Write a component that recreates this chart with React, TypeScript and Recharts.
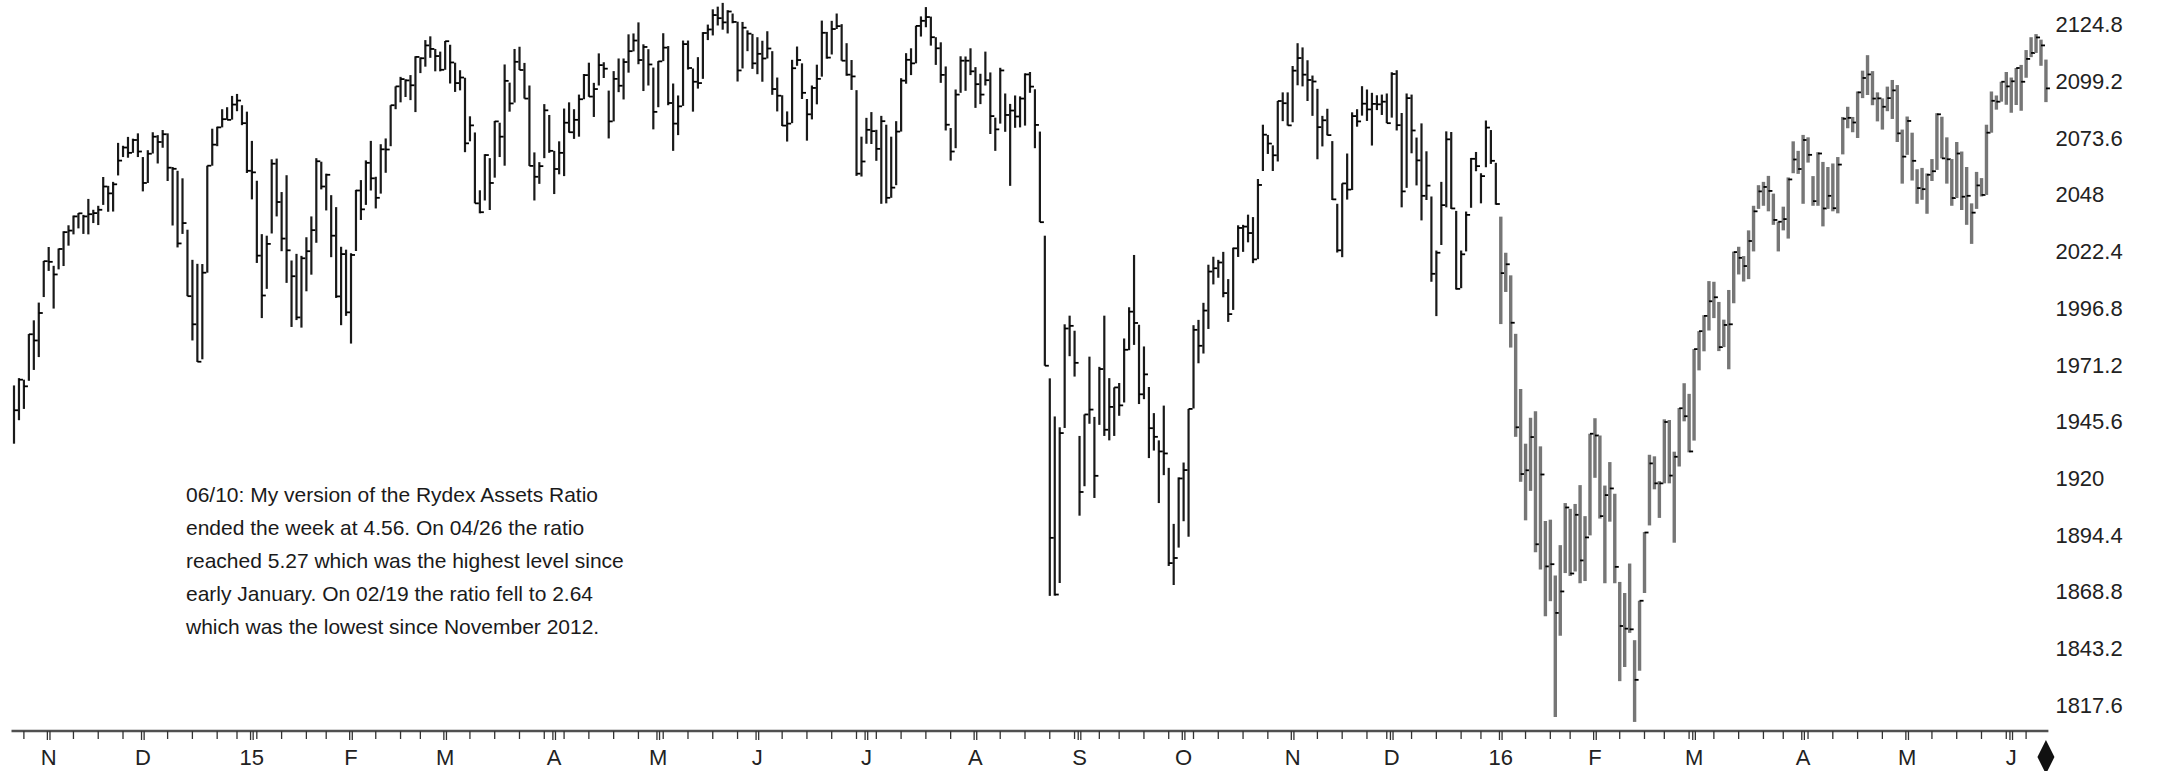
import { ComposedChart, Bar, XAxis, YAxis } from 'recharts'

// daily high / low / close, one row per trading day
const oct14 = [
  [1962.0, 1935.7, 1950.8], [1965.3, 1946.3, 1964.6], [1964.6, 1951.4, 1961.6], [1985.2, 1964.1, 1985.1],
  [1991.4, 1969.0, 1982.3], [1999.4, 1974.8, 1994.7], [2018.2, 2001.9, 2018.1],
]
const nov14 = [
  [2024.5, 2013.7, 2017.8], [2016.0, 1996.7, 2012.1], [2023.8, 2014.4, 2023.6], [2031.6, 2015.9, 2031.2],
  [2034.3, 2025.1, 2031.9], [2038.7, 2030.2, 2038.3], [2039.8, 2032.9, 2039.7], [2039.0, 2030.4, 2038.3],
  [2046.2, 2030.2, 2039.3], [2041.3, 2035.3, 2039.8], [2043.1, 2034.4, 2041.3], [2056.1, 2043.5, 2051.8],
  [2052.1, 2040.4, 2048.7], [2053.9, 2040.5, 2052.8], [2071.5, 2056.8, 2063.5], [2070.2, 2065.1, 2069.4],
  [2074.2, 2064.8, 2067.0], [2073.4, 2067.0, 2072.8], [2075.8, 2065.1, 2067.6],
]
const dec14 = [
  [2065.1, 2049.6, 2053.4], [2068.2, 2053.4, 2066.6], [2076.3, 2066.7, 2074.3], [2075.0, 2062.2, 2071.9],
  [2077.3, 2069.3, 2075.4], [2075.8, 2054.3, 2060.3], [2060.6, 2034.2, 2059.8], [2058.9, 2024.3, 2026.1],
  [2055.5, 2030.4, 2035.3], [2032.3, 2002.3, 2002.3], [2018.7, 1982.3, 1989.6], [2016.9, 1972.6, 1972.7],
  [2016.8, 1973.8, 2012.9], [2061.2, 2012.9, 2061.2], [2077.9, 2061.2, 2070.7], [2078.8, 2070.0, 2078.5],
  [2086.7, 2078.5, 2082.2], [2087.6, 2081.9, 2081.9], [2092.7, 2082.0, 2088.8], [2093.6, 2085.8, 2090.6],
  [2088.5, 2079.5, 2080.4], [2085.6, 2057.9, 2058.9],
]
const jan15 = [
  [2072.4, 2046.0, 2058.2], [2054.4, 2017.3, 2020.6], [2030.3, 1992.4, 2002.6], [2029.6, 2005.6, 2025.9],
  [2064.1, 2030.6, 2062.1], [2064.4, 2038.3, 2044.8], [2049.3, 2022.6, 2028.3], [2056.9, 2008.3, 2023.0],
  [2018.4, 1988.4, 2011.3], [2021.4, 1991.5, 1992.7], [2020.5, 1988.1, 2019.4], [2028.9, 2004.5, 2022.6],
  [2038.3, 2012.0, 2032.1], [2064.6, 2026.4, 2063.2], [2063.0, 2050.5, 2051.8], [2057.6, 2041.0, 2057.1],
  [2047.9, 2019.9, 2029.6], [2042.5, 2001.5, 2002.2], [2024.6, 1989.2, 2021.3], [2023.3, 1993.4, 1995.0],
]
const feb15 = [
  [2021.7, 1980.9, 2020.9], [2050.3, 2022.7, 2050.0], [2054.7, 2036.7, 2041.5], [2063.6, 2043.5, 2062.5],
  [2072.4, 2050.0, 2055.5], [2056.2, 2041.9, 2046.7], [2070.9, 2048.6, 2068.6], [2073.5, 2058.0, 2068.5],
  [2088.5, 2070.0, 2088.5], [2097.0, 2086.7, 2097.0], [2101.3, 2089.8, 2100.3], [2100.2, 2092.2, 2099.7],
  [2102.1, 2090.8, 2097.5], [2110.6, 2085.4, 2110.3], [2110.1, 2103.0, 2109.7], [2117.9, 2105.9, 2115.5],
  [2119.6, 2109.9, 2113.9], [2113.9, 2103.8, 2110.7], [2112.7, 2103.8, 2104.5],
]
const mar15 = [
  [2117.5, 2104.5, 2117.4], [2115.8, 2098.3, 2107.8], [2107.7, 2094.5, 2098.5], [2104.3, 2095.2, 2101.0],
  [2100.9, 2067.3, 2071.3], [2083.5, 2072.2, 2079.4], [2076.2, 2044.2, 2044.2], [2050.1, 2039.7, 2040.2],
  [2066.4, 2045.5, 2066.0], [2064.6, 2041.2, 2053.4], [2081.4, 2055.8, 2081.2], [2080.6, 2065.1, 2074.3],
  [2106.9, 2061.2, 2099.5], [2098.7, 2085.6, 2089.3], [2113.9, 2089.7, 2108.1], [2114.9, 2104.4, 2104.4],
  [2107.6, 2091.5, 2091.5], [2097.4, 2061.1, 2061.1], [2067.2, 2045.5, 2056.2], [2062.8, 2053.0, 2061.0],
  [2089.0, 2064.6, 2086.2], [2084.1, 2067.0, 2067.9],
]
const apr15 = [
  [2067.9, 2048.4, 2059.7], [2072.2, 2057.3, 2067.0], [2087.0, 2056.5, 2080.6], [2089.8, 2076.1, 2076.3],
  [2086.7, 2073.3, 2081.9], [2093.3, 2074.3, 2091.2], [2102.6, 2091.2, 2102.1], [2107.7, 2092.3, 2092.4],
  [2098.6, 2083.2, 2095.8], [2111.9, 2097.4, 2106.6], [2107.9, 2100.8, 2105.0], [2095.1, 2073.5, 2081.2],
  [2103.9, 2081.2, 2100.4], [2109.6, 2094.4, 2097.3], [2109.6, 2091.1, 2108.0], [2120.5, 2103.2, 2112.9],
  [2120.9, 2112.8, 2117.7], [2125.9, 2107.0, 2108.9], [2116.0, 2094.9, 2114.8], [2113.8, 2097.4, 2106.9],
  [2105.5, 2077.6, 2085.5],
]
const may15 = [
  [2108.4, 2087.6, 2108.3], [2121.0, 2108.4, 2114.5], [2115.2, 2088.5, 2089.5], [2098.3, 2067.9, 2080.2],
  [2092.9, 2075.0, 2088.0], [2117.7, 2088.2, 2116.1], [2117.7, 2104.6, 2105.3], [2105.1, 2085.6, 2099.1],
  [2110.2, 2096.0, 2098.5], [2121.5, 2100.4, 2121.1], [2124.9, 2117.9, 2122.7], [2131.8, 2120.0, 2129.2],
  [2133.0, 2124.5, 2127.8], [2134.7, 2122.6, 2125.9], [2131.4, 2120.9, 2130.8], [2129.9, 2125.5, 2126.1],
  [2126.2, 2099.2, 2104.2], [2126.1, 2105.1, 2123.5], [2122.3, 2112.9, 2120.8], [2120.7, 2104.9, 2107.4],
]
const jun15 = [
  [2119.2, 2102.5, 2111.7], [2117.6, 2099.1, 2109.6], [2121.9, 2109.6, 2114.1], [2112.9, 2093.2, 2095.8],
  [2101.0, 2085.7, 2092.8], [2093.0, 2079.1, 2079.3], [2085.7, 2072.1, 2080.2], [2109.0, 2080.4, 2105.2],
  [2115.0, 2106.3, 2108.9], [2107.4, 2091.3, 2094.1], [2091.3, 2072.5, 2084.4], [2097.4, 2082.1, 2096.3],
  [2106.8, 2088.9, 2100.4], [2126.7, 2101.4, 2121.2], [2121.6, 2109.5, 2110.0], [2126.6, 2111.4, 2122.9],
  [2129.9, 2122.9, 2124.2], [2125.1, 2108.6, 2108.6], [2116.5, 2101.8, 2102.3], [2108.9, 2095.4, 2101.5],
  [2095.3, 2056.6, 2057.6], [2074.3, 2056.3, 2063.1],
]
const jul15 = [
  [2082.8, 2071.1, 2077.4], [2085.4, 2071.0, 2076.8], [2077.4, 2063.4, 2068.8], [2083.7, 2044.0, 2081.3],
  [2079.7, 2044.2, 2046.7], [2074.3, 2046.7, 2051.3], [2081.3, 2052.4, 2076.6], [2100.7, 2076.6, 2099.6],
  [2112.0, 2098.2, 2109.0], [2114.2, 2102.1, 2107.4], [2124.4, 2107.4, 2124.3], [2128.6, 2119.5, 2126.6],
  [2132.8, 2123.7, 2128.3], [2128.5, 2115.4, 2119.2], [2119.2, 2106.7, 2114.2], [2116.9, 2098.6, 2102.2],
  [2106.0, 2077.1, 2079.7], [2078.2, 2063.5, 2067.6], [2095.6, 2069.1, 2093.3], [2110.6, 2094.1, 2108.6],
  [2110.5, 2095.0, 2108.6], [2114.2, 2102.1, 2103.8],
]
const aug15 = [
  [2105.7, 2087.3, 2098.0], [2102.7, 2089.0, 2093.3], [2112.7, 2097.4, 2099.8], [2103.3, 2075.5, 2083.6],
  [2082.9, 2067.9, 2077.6], [2105.4, 2080.2, 2104.2], [2093.8, 2076.5, 2084.1], [2089.1, 2052.1, 2086.1],
  [2092.9, 2078.3, 2083.4], [2092.5, 2078.5, 2091.5], [2102.9, 2079.3, 2102.4], [2103.5, 2094.1, 2096.9],
  [2095.7, 2069.1, 2079.6], [2076.6, 2035.7, 2035.7], [2029.6, 1970.9, 1970.9], [1965.2, 1867.0, 1893.2],
  [1948.0, 1867.1, 1867.6], [1943.1, 1872.8, 1940.5], [1989.6, 1942.8, 1987.7], [1993.5, 1975.2, 1988.9],
  [1986.7, 1966.0, 1972.2],
]
const sep15 = [
  [1939.2, 1903.2, 1913.9], [1948.9, 1916.5, 1948.9], [1975.0, 1944.7, 1951.1], [1947.8, 1911.2, 1921.2],
  [1970.4, 1944.2, 1969.4], [1993.5, 1939.2, 1942.0], [1965.3, 1937.2, 1952.3], [1961.1, 1939.2, 1961.1],
  [1963.1, 1948.3, 1953.0], [1983.2, 1954.3, 1978.1], [1997.3, 1977.9, 1995.3], [2020.9, 1980.3, 1990.2],
  [1989.4, 1953.6, 1958.0], [1979.6, 1955.8, 1967.0], [1961.3, 1929.2, 1942.7], [1949.5, 1932.6, 1938.8],
  [1937.2, 1908.9, 1932.2], [1952.9, 1921.5, 1931.3], [1924.8, 1880.5, 1881.8], [1899.5, 1871.9, 1884.1],
  [1920.5, 1888.8, 1920.0],
]
const oct15 = [
  [1927.2, 1900.7, 1923.8], [1951.4, 1893.7, 1951.4], [1989.2, 1951.6, 1987.1], [1991.6, 1972.0, 1979.9],
  [1999.3, 1976.4, 1995.8], [2016.5, 1987.5, 2013.4], [2020.1, 2007.6, 2014.9], [2018.7, 2010.6, 2017.5],
  [2022.3, 2001.8, 2003.7], [2010.0, 1990.7, 1994.2], [2024.2, 1996.1, 2023.9], [2034.3, 2020.0, 2033.1],
  [2034.5, 2022.3, 2033.7], [2039.1, 2026.6, 2030.8], [2038.0, 2017.2, 2018.9], [2055.2, 2019.0, 2052.5],
  [2079.7, 2058.8, 2075.2], [2075.1, 2066.5, 2071.2], [2070.4, 2058.8, 2065.9], [2090.4, 2063.1, 2090.4],
  [2094.3, 2081.3, 2089.4], [2094.3, 2079.3, 2079.4],
]
const nov15 = [
  [2106.2, 2080.8, 2104.1], [2116.5, 2097.5, 2109.8], [2114.6, 2097.0, 2102.3], [2108.8, 2090.4, 2099.9],
  [2101.9, 2083.7, 2099.2], [2095.9, 2064.1, 2078.6], [2083.7, 2069.9, 2081.7], [2086.9, 2074.9, 2075.0],
  [2072.3, 2045.7, 2046.0], [2044.0, 2022.0, 2023.0], [2053.2, 2019.9, 2053.2], [2066.7, 2045.9, 2050.4],
  [2085.3, 2050.2, 2083.6], [2086.7, 2078.8, 2081.2], [2097.1, 2083.8, 2089.2], [2095.6, 2081.4, 2086.6],
  [2094.1, 2070.3, 2089.1], [2093.0, 2086.3, 2088.9], [2093.3, 2084.1, 2090.1], [2093.8, 2080.4, 2080.4],
]
const dec15 = [
  [2103.4, 2082.9, 2102.6], [2104.3, 2077.1, 2079.5], [2085.0, 2042.4, 2049.6], [2093.8, 2051.2, 2091.7],
  [2093.3, 2066.8, 2077.1], [2073.9, 2052.3, 2063.6], [2080.3, 2036.5, 2047.6], [2067.7, 2045.7, 2052.2],
  [2047.3, 2008.8, 2012.4], [2022.9, 1993.3, 2021.9], [2053.9, 2025.4, 2043.4], [2076.7, 2042.4, 2073.1],
  [2076.4, 2041.7, 2041.9], [2040.8, 2005.3, 2005.6], [2022.9, 2005.9, 2021.2], [2040.5, 2022.5, 2039.0],
  [2064.7, 2042.2, 2064.3], [2067.4, 2058.7, 2061.0], [2057.8, 2044.2, 2056.5], [2081.6, 2060.5, 2078.4],
  [2077.3, 2062.0, 2063.4], [2062.5, 2043.6, 2043.9],
]
const jan16 = [
  [2038.2, 1989.7, 2012.7], [2021.9, 2004.2, 2016.7], [2011.7, 1979.1, 1990.3], [1985.3, 1938.8, 1943.1],
  [1960.4, 1918.5, 1922.0], [1935.7, 1901.1, 1923.7], [1947.4, 1914.4, 1938.7], [1950.3, 1886.7, 1890.3],
  [1934.5, 1878.9, 1921.8], [1900.8, 1857.8, 1880.3], [1901.4, 1864.6, 1881.3], [1876.2, 1812.3, 1859.3],
  [1889.9, 1849.0, 1869.0], [1908.9, 1877.3, 1906.9], [1906.3, 1876.0, 1877.1], [1908.5, 1878.0, 1903.6],
  [1917.0, 1872.7, 1883.0], [1903.0, 1873.7, 1893.4], [1940.2, 1894.3, 1940.2],
]
const feb16 = [
  [1947.2, 1920.3, 1939.4], [1939.4, 1901.9, 1903.0], [1916.8, 1872.7, 1912.5], [1927.4, 1900.5, 1915.5],
  [1913.1, 1872.7, 1880.1], [1873.3, 1828.5, 1853.4], [1868.3, 1834.9, 1852.2], [1881.6, 1850.3, 1851.9],
  [1847.0, 1810.1, 1829.1], [1864.8, 1833.2, 1864.8], [1895.8, 1868.3, 1895.6], [1930.7, 1898.8, 1926.8],
  [1930.0, 1915.1, 1917.8], [1918.8, 1902.2, 1917.8], [1946.7, 1917.8, 1945.5], [1946.4, 1917.8, 1921.3],
  [1932.1, 1891.0, 1929.8], [1951.8, 1925.4, 1951.7], [1963.0, 1945.8, 1948.1], [1958.2, 1931.8, 1932.2],
]
const mar16 = [
  [1978.4, 1937.1, 1978.4], [1986.5, 1968.8, 1986.5], [1993.7, 1977.4, 1993.4], [2009.1, 1986.8, 2000.0],
  [2008.8, 1992.4, 2001.8], [1999.7, 1977.5, 1979.3], [1991.7, 1979.3, 1989.3], [2005.1, 1969.3, 1989.6],
  [2022.4, 1999.1, 2022.2], [2024.6, 2012.1, 2019.6], [2020.4, 2008.9, 2015.9], [2032.0, 2010.0, 2027.2],
  [2043.1, 2022.5, 2040.6], [2052.4, 2041.7, 2049.6], [2053.9, 2043.1, 2051.6], [2056.6, 2040.6, 2049.8],
  [2048.6, 2034.5, 2036.7], [2036.0, 2022.5, 2035.9], [2042.7, 2032.0, 2037.1], [2055.9, 2028.3, 2055.0],
  [2072.2, 2057.8, 2064.0], [2067.9, 2057.5, 2059.7],
]
const apr16 = [
  [2075.1, 2044.0, 2072.8], [2074.0, 2062.6, 2066.1], [2056.5, 2043.1, 2045.2], [2067.3, 2043.1, 2066.7],
  [2062.9, 2033.8, 2041.9], [2060.6, 2041.7, 2047.6], [2062.2, 2040.6, 2042.0], [2065.1, 2039.7, 2061.7],
  [2083.2, 2066.3, 2082.4], [2087.8, 2078.1, 2082.8], [2083.2, 2076.3, 2080.7], [2094.7, 2073.7, 2094.3],
  [2104.1, 2091.7, 2100.8], [2111.1, 2093.1, 2102.4], [2103.9, 2088.5, 2091.5], [2094.3, 2081.2, 2091.6],
  [2091.6, 2077.5, 2087.8], [2096.9, 2085.8, 2091.7], [2099.9, 2082.3, 2095.2], [2097.6, 2071.9, 2075.8],
  [2077.5, 2053.1, 2065.3],
]
const may16 = [
  [2083.4, 2066.1, 2081.4], [2076.1, 2054.5, 2063.4], [2059.6, 2044.0, 2051.1], [2060.2, 2045.8, 2050.6],
  [2057.7, 2039.5, 2057.1], [2064.2, 2054.3, 2058.7], [2084.9, 2059.3, 2084.4], [2083.3, 2064.5, 2064.5],
  [2074.0, 2053.1, 2064.1], [2064.2, 2043.1, 2046.6], [2071.9, 2046.6, 2066.7], [2067.6, 2041.2, 2047.2],
  [2060.6, 2034.5, 2047.6], [2044.2, 2025.9, 2040.0], [2058.4, 2041.7, 2052.3], [2055.6, 2047.3, 2048.0],
  [2079.7, 2048.0, 2076.1], [2094.7, 2076.1, 2090.5], [2092.9, 2086.5, 2090.1], [2099.1, 2090.1, 2099.1],
  [2103.5, 2088.7, 2097.0],
]
const jun16 = [
  [2101.0, 2085.1, 2099.3], [2105.3, 2088.6, 2105.3], [2106.7, 2086.0, 2099.1], [2113.4, 2100.9, 2109.4],
  [2119.2, 2110.2, 2112.1], [2120.6, 2112.1, 2119.1], [2118.1, 2106.3, 2115.5], [2109.1, 2089.9, 2096.1],
]

const months = [oct14, nov14, dec14, jan15, feb15, mar15, apr15, may15, jun15, jul15, aug15, sep15,
  oct15, nov15, dec15, jan16, feb16, mar16, apr16, may16, jun16]

const holidays = [
  '2014-11-27', '2014-12-25', '2015-01-01', '2015-01-19', '2015-02-16', '2015-04-03', '2015-05-25',
  '2015-07-03', '2015-09-07', '2015-11-26', '2015-12-25', '2016-01-01', '2016-01-18', '2016-02-15',
  '2016-03-25', '2016-05-30',
]

const priceTicks = [1817.6, 1843.2, 1868.8, 1894.4, 1920, 1945.6, 1971.2, 1996.8, 2022.4, 2048, 2073.6, 2099.2, 2124.8]
const monthLetters = ['', 'F', 'M', 'A', 'M', 'J', 'J', 'A', 'S', 'O', 'N', 'D']

const noteLines = [
  '06/10: My version of the Rydex Assets Ratio',
  'ended the week at 4.56. On 04/26 the ratio',
  'reached 5.27 which was the highest level since',
  'early January. On 02/19 the ratio fell to 2.64',
  'which was the lowest since November 2012.',
]

function tradingDays(start: string, end: string) {
  const out: string[] = []
  const d = new Date(start + 'T00:00:00Z')
  const stop = new Date(end + 'T00:00:00Z')
  while (d <= stop) {
    const wd = d.getUTCDay()
    const iso = d.toISOString().slice(0, 10)
    if (wd !== 0 && wd !== 6 && !holidays.includes(iso)) out.push(iso)
    d.setUTCDate(d.getUTCDate() + 1)
  }
  return out
}

const dates = tradingDays('2014-10-23', '2016-06-10')
const rows = months.flat()
const data = dates.map((date, i) => {
  const [high, low, close] = rows[i] || rows[rows.length - 1]
  return { date, high, low, close, range: [low, high] }
})

// weekly ticks, month starts, and the last bar (diamond)
const weekStart = new Set<string>()
const monthStart = new Set<string>()
dates.forEach((d, i) => {
  if (i === 0) return
  const prev = new Date(dates[i - 1] + 'T00:00:00Z')
  const cur = new Date(d + 'T00:00:00Z')
  if (cur.getUTCDay() < prev.getUTCDay() || (cur.getTime() - prev.getTime()) > 4 * 86400000) weekStart.add(d)
  if (d.slice(5, 7) !== dates[i - 1].slice(5, 7)) monthStart.add(d)
})
const lastDate = dates[dates.length - 1]
const xTicks = dates.filter((d) => weekStart.has(d) || monthStart.has(d) || d === lastDate)

function monthLabel(d: string) {
  const m = Number(d.slice(5, 7))
  return m === 1 ? d.slice(2, 4) : monthLetters[m - 1]
}

function HlcBar(props: any) {
  const { x, y, width, height, payload } = props
  if (!payload) return null
  const cx = x + width / 2
  const top = Math.min(y, y + height)
  const bot = Math.max(y, y + height)
  const { high, low, close } = payload
  const cy = high === low ? top : top + ((high - close) / (high - low)) * (bot - top)
  const gray = payload.date >= '2016-01-01'
  return (
    <g>
      <line x1={cx} x2={cx} y1={top} y2={bot} stroke={gray ? '#767676' : '#1a1a1a'} strokeWidth={gray ? 3.4 : 2.2} />
      <line x1={cx} x2={cx + 4} y1={cy} y2={cy} stroke="#000" strokeWidth={1.8} />
    </g>
  )
}

function DateTick(props: any) {
  const { x, y, payload } = props
  const d: string = payload.value
  if (d === lastDate) {
    return <polygon points={`${x},${y + 9} ${x + 8.5},${y + 26} ${x},${y + 43} ${x - 8.5},${y + 26}`} fill="#111" />
  }
  const isMonth = monthStart.has(d)
  return (
    <g>
      {isMonth ? (
        <>
          <line x1={x - 1.3} x2={x - 1.3} y1={y} y2={y + 9} stroke="#333" strokeWidth={1.3} />
          <line x1={x + 1.3} x2={x + 1.3} y1={y} y2={y + 9} stroke="#333" strokeWidth={1.3} />
          <text x={x} y={y + 34} textAnchor="middle" fontSize={22} fontFamily="Liberation Sans, Arial, sans-serif" fill="#222">
            {monthLabel(d)}
          </text>
        </>
      ) : (
        <line x1={x} x2={x} y1={y} y2={y + 8} stroke="#333" strokeWidth={1.3} />
      )}
    </g>
  )
}

function PriceTick(props: any) {
  const { x, y, payload } = props
  return (
    <text x={x} y={y} dy={7.5} textAnchor="start" fontSize={22} fontFamily="Liberation Sans, Arial, sans-serif" fill="#222">
      {String(Math.round(payload.value * 10) / 10)}
    </text>
  )
}

export default function App() {
  return (
    <div style={{ position: 'absolute', left: 0, top: 0, width: 2163, height: 771, background: '#fff' }}>
      <ComposedChart width={2163} height={771} data={data} margin={{ top: 0, right: 0, bottom: 0, left: 11.5 }} barCategoryGap={0}>
        <XAxis
          dataKey="date"
          ticks={xTicks}
          interval={0}
          tick={(p: any) => <DateTick {...p} />}
          tickLine={false}
          tickSize={0}
          tickMargin={0}
          height={40}
          axisLine={{ stroke: '#505050', strokeWidth: 2.5 }}
        />
        <YAxis
          orientation="right"
          domain={[1806, 2136]}
          ticks={priceTicks}
          width={114.6}
          tick={(p: any) => <PriceTick {...p} />}
          axisLine={false}
          tickLine={false}
          tickSize={0}
          tickMargin={7}
          allowDataOverflow
        />
        <Bar dataKey="range" shape={(p: any) => <HlcBar {...p} />} isAnimationActive={false} />
      </ComposedChart>
      <div
        style={{
          position: 'absolute',
          left: 186,
          top: 478,
          fontFamily: 'Liberation Sans, Arial, sans-serif',
          fontSize: 21,
          lineHeight: '33px',
          color: '#1a1a1a',
          whiteSpace: 'pre',
        }}
      >
        {noteLines.map((l) => (
          <div key={l}>{l}</div>
        ))}
      </div>
    </div>
  )
}
